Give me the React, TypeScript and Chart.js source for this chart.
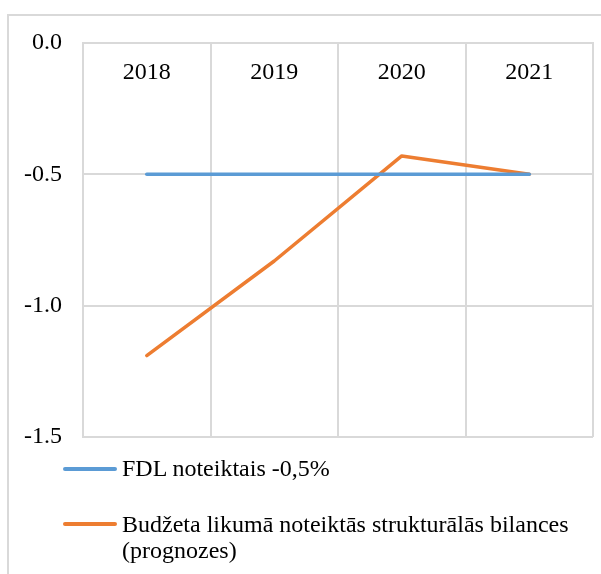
import React, { useEffect, useRef } from "react";
import { Chart, registerables } from "chart.js";

Chart.register(...registerables);

const categories = ["2018", "2019", "2020", "2021"];
const fdlValues = [-0.5, -0.5, -0.5, -0.5];
const budgetValues = [-1.19, -0.83, -0.43, -0.5];
const fdlLabel = "FDL noteiktais -0,5%";
const budgetLabelLine1 = "Budžeta likumā noteiktās strukturālās bilances";
const budgetLabelLine2 = "(prognozes)";

const BLUE = "#5B9BD5";
const ORANGE = "#ED7D31";
const GRID = "#d9d9d9";
const FONT = "'Liberation Serif', 'Times New Roman', serif";
const FONT_SIZE = 24;

export default function App() {
  const ref = useRef<HTMLCanvasElement>(null);

  useEffect(() => {
    if (!ref.current) return;
    const chart = new Chart(ref.current, {
      type: "line",
      data: {
        labels: categories,
        datasets: [
          {
            label: fdlLabel,
            data: fdlValues,
            borderColor: BLUE,
            backgroundColor: BLUE,
            borderWidth: 3.5,
            pointRadius: 0,
            borderCapStyle: "round",
            borderJoinStyle: "round",
            tension: 0,
          },
          {
            label: budgetLabelLine1 + " " + budgetLabelLine2,
            data: budgetValues,
            borderColor: ORANGE,
            backgroundColor: ORANGE,
            borderWidth: 3.5,
            pointRadius: 0,
            borderCapStyle: "round",
            borderJoinStyle: "round",
            tension: 0,
          },
        ],
      },
      options: {
        responsive: false,
        animation: false,
        layout: { padding: { left: 0, top: 43, right: 8, bottom: 137 } },
        plugins: {
          legend: { display: false },
          tooltip: { enabled: false },
        },
        scales: {
          x: {
            position: { y: 0 } as any,
            offset: true,
            grid: {
              offset: true,
              color: GRID,
              lineWidth: 2,
              drawTicks: false,
            },
            border: { display: true, color: GRID, width: 2 },
            ticks: {
              color: "#000",
              font: { family: FONT, size: FONT_SIZE },
              padding: 15,
              maxRotation: 0,
            },
          },
          y: {
            min: -1.5,
            max: 0,
            afterFit: (scale: any) => {
              scale.width = 83;
            },
            grid: { color: GRID, lineWidth: 2, drawTicks: false },
            border: { display: true, color: GRID, width: 2 },
            ticks: {
              stepSize: 0.5,
              color: "#000",
              font: { family: FONT, size: FONT_SIZE },
              padding: 21,
              callback: (v: any) => Number(v).toFixed(1),
            },
          },
        },
      },
    });
    return () => chart.destroy();
  }, []);

  const textStyle: React.CSSProperties = {
    position: "absolute",
    left: 122,
    fontFamily: FONT,
    fontSize: FONT_SIZE,
    lineHeight: "26px",
    color: "#000",
    whiteSpace: "nowrap",
  };

  return (
    <div
      style={{
        position: "fixed",
        left: 0,
        top: 0,
        width: 601,
        height: 574,
        overflow: "hidden",
        background: "#fff",
      }}
    >
      <div
        style={{
          position: "absolute",
          left: 7,
          top: 14,
          width: 800,
          height: 800,
          borderLeft: `2px solid ${GRID}`,
          borderTop: `2px solid ${GRID}`,
        }}
      />
      <canvas
        ref={ref}
        width={601}
        height={574}
        style={{ position: "absolute", left: 0, top: 0, width: 601, height: 574 }}
      />
      <div style={{ position: "absolute", left: 63, top: 467, width: 54, height: 3.5, background: BLUE, borderRadius: 2 }} />
      <div style={{ ...textStyle, top: 455 }}>{fdlLabel}</div>
      <div style={{ position: "absolute", left: 63, top: 522, width: 54, height: 3.5, background: ORANGE, borderRadius: 2 }} />
      <div style={{ ...textStyle, top: 511 }}>
        {budgetLabelLine1}
        <br />
        {budgetLabelLine2}
      </div>
    </div>
  );
}
